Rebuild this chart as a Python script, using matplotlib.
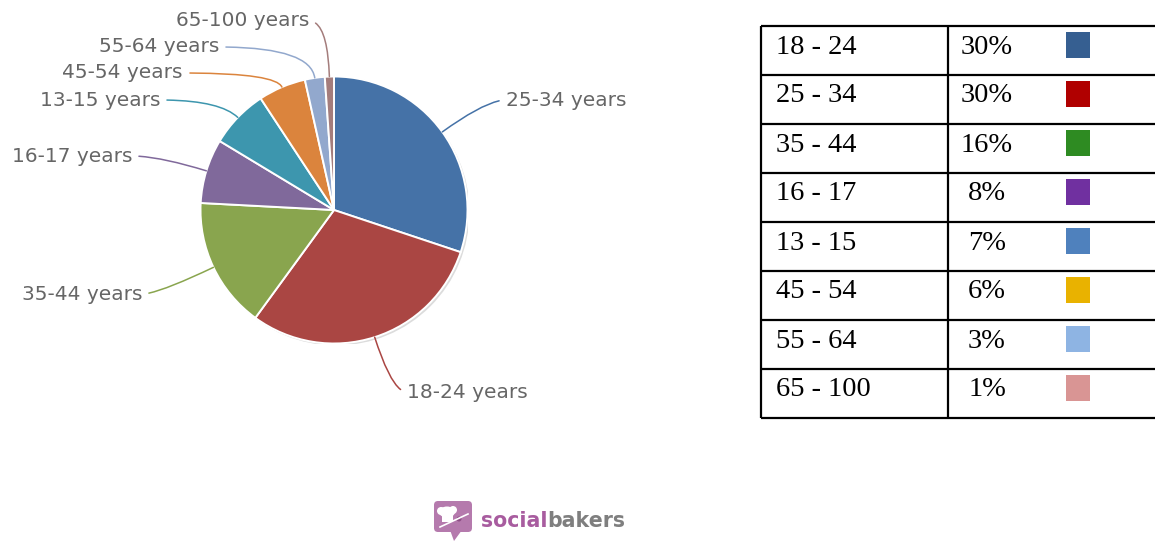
import numpy as np
import matplotlib.pyplot as plt
from matplotlib.patches import FancyBboxPatch, Rectangle, Polygon, Ellipse, Circle

W, H = 1155, 548

# pie slices, clockwise from 12 o'clock (shares)
pie_labels = ["25-34 years", "18-24 years", "35-44 years", "16-17 years",
              "13-15 years", "45-54 years", "55-64 years", "65-100 years"]
pie_shares = [30.1, 29.9, 15.8, 7.8, 7.1, 5.75, 2.4, 1.1]
pie_colors = ["#4572A7", "#AA4643", "#89A54E", "#80699B",
              "#3D96AE", "#DB843D", "#92A8CD", "#A47D7C"]

# table on the right
table_ages = ["18 - 24", "25 - 34", "35 - 44", "16 - 17",
              "13 - 15", "45 - 54", "55 - 64", "65 - 100"]
table_pct = [30, 30, 16, 8, 7, 6, 3, 1]
table_colors = ["#365F91", "#B00000", "#2E8B22", "#7030A0",
                "#4F81BD", "#E9B200", "#8EB4E3", "#D99594"]

# label anchors in image pixels (x of the text end nearest the pie, y centre)
label_anchor = [(506, 100, "left"), (407, 392, "left"), (142, 294, "right"),
                (132, 156, "right"), (160, 100, "right"), (183, 73, "right"),
                (219, 47, "right"), (309, 21, "right")]

fig = plt.figure(figsize=(W / 100, H / 100), dpi=100)

# pie centre (334, 210), radius 133.5 px
cx, cy, r = 334, 210, 133.5
ax = fig.add_axes([(cx - r) / W, (H - cy - r) / H, 2 * r / W, 2 * r / H])
ax.add_patch(Circle((0.015, -0.015), 1.0, fc="#dcdcdc", ec="none", zorder=0))
wedges, _ = ax.pie(pie_shares, colors=pie_colors, startangle=90, counterclock=False,
                   radius=1, wedgeprops=dict(edgecolor="white", linewidth=1.4))
ax.set_xlim(-1, 1)
ax.set_ylim(-1, 1)
ax.axis("off")

for w, lab, col, (lx, ly, ha) in zip(wedges, pie_labels, pie_colors, label_anchor):
    mid = (w.theta1 + w.theta2) / 2
    t = np.deg2rad(mid)
    ax.annotate(lab, xy=(np.cos(t), np.sin(t)), xycoords="data",
                xytext=(lx, H - ly), textcoords="figure pixels",
                ha=ha, va="center", fontsize=14.5, color="#666666",
                annotation_clip=False,
                arrowprops=dict(arrowstyle="-", color=col, lw=1.1,
                                shrinkA=3, shrinkB=0,
                                relpos=(1, 0.5) if ha == "right" else (0, 0.5),
                                connectionstyle=f"angle3,angleA=0,angleB={mid}"))

# overlay in image pixel coordinates for the table and logo
ov = fig.add_axes([0, 0, 1, 1])
ov.set_xlim(0, W)
ov.set_ylim(H, 0)
ov.axis("off")

row_h = 49
top = 26
bottom = 418
tops = [top + i * row_h for i in range(len(table_ages))]
ov.hlines(tops + [bottom], 761, W, color="black", lw=1.6)
ov.vlines([761, 948], top, bottom, color="black", lw=1.6)

for y0, age, p, c in zip(tops, table_ages, table_pct, table_colors):
    ov.text(776, y0 + 27.5, age, fontsize=20.5, family="Liberation Serif",
            va="baseline", ha="left", color="black")
    ov.text(987, y0 + 27.5, f"{p}%", fontsize=20.5, family="Liberation Serif",
            va="baseline", ha="center", color="black")
    ov.add_patch(Rectangle((1066, y0 + 6), 24, 25.5, fc=c, ec="none"))

# socialbakers logo
ov.add_patch(FancyBboxPatch((434, 501), 38, 31, boxstyle="round,pad=0,rounding_size=4",
                            fc="#b57aad", ec="none"))
ov.add_patch(Polygon([(450, 530), (462, 530), (454, 541)], closed=True, fc="#b57aad", ec="none"))
ov.add_patch(Ellipse((447, 512), 16, 11, fc="white", ec="none"))
ov.add_patch(Ellipse((441, 511), 8, 8, fc="white", ec="none"))
ov.add_patch(Ellipse((453, 510), 8, 8, fc="white", ec="none"))
ov.add_patch(Rectangle((442, 515), 11, 7, fc="white", ec="none"))
ov.plot([440, 468], [527, 514], color="white", lw=1.2)
ov.add_patch(Circle((459, 519), 2.5, fc="#8e4f86", ec="none"))

t_soc = ov.text(481, 527, "social", fontsize=14.8, weight="bold", color="#a85c9f",
                va="baseline", ha="left")
ov.annotate("bakers", xy=(1, 0), xycoords=t_soc, fontsize=14.8, weight="bold",
            color="#7f7f7f", va="bottom", ha="left")

fig.savefig("out.png", dpi=100)
